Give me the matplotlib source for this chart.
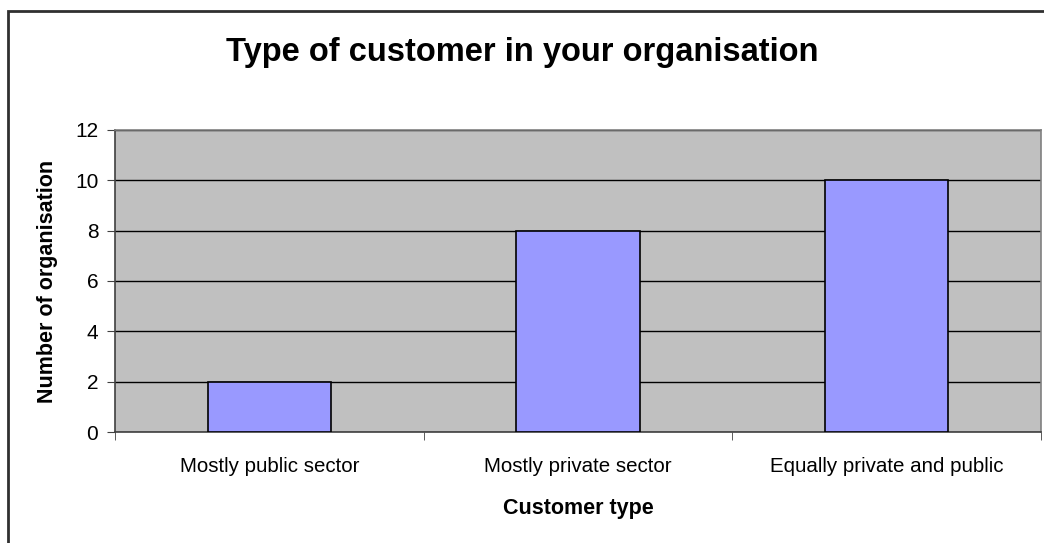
import matplotlib
matplotlib.use("Agg")
import matplotlib.pyplot as plt
from matplotlib.patches import Rectangle

categories = ["Mostly public sector", "Mostly private sector", "Equally private and public"]
values = [2, 8, 10]
yticks = [0, 2, 4, 6, 8, 10, 12]

plt.rcParams['font.family'] = ['Liberation Sans', 'DejaVu Sans']

fig = plt.figure(figsize=(10.44, 5.43), dpi=100)
W, H = 1044, 543
ax = fig.add_axes([115 / W, 1 - 432 / H, (1041 - 115) / W, (432 - 130) / H])
ax.set_facecolor('#C0C0C0')

x = list(range(len(categories)))
ax.bar(x, values, width=0.4, color='#9999FF', edgecolor='black', linewidth=1.2, zorder=3)
ax.set_xlim(-0.5, len(categories) - 0.5)
ax.set_ylim(0, 12)
ax.set_yticks(yticks)
ax.set_yticklabels([str(v) for v in yticks], fontsize=15)
ax.yaxis.grid(True, color='black', linewidth=1, zorder=1)
ax.set_axisbelow(True)
ax.set_xticks(x)
ax.set_xticklabels(categories, fontsize=14.8)
ax.tick_params(axis='x', length=0, pad=18)
ax.set_xticks([-0.5, 0.5, 1.5, 2.5], minor=True)
ax.tick_params(axis='x', which='minor', length=6, color='#404040', direction='out')
ax.tick_params(axis='y', length=6, color='#404040', direction='out', pad=6)

for s in ['top', 'right']:
    ax.spines[s].set_color('#808080')
    ax.spines[s].set_linewidth(1.2)
for s in ['left', 'bottom']:
    ax.spines[s].set_color('#404040')
    ax.spines[s].set_linewidth(1.2)

ax.set_xlabel("Customer type", fontsize=15.5, fontweight='bold', labelpad=16)
ax.set_ylabel("Number of organisation", fontsize=15.5, fontweight='bold', labelpad=12)

fig.text(0.5, 1 - 53 / H, "Type of customer in your organisation", ha='center', va='center',
         fontsize=23.5, fontweight='bold')

fig.patches.append(Rectangle((7.5 / W, -0.1), 1.2, 1 - 11 / H + 0.1, transform=fig.transFigure,
                             fill=False, edgecolor='#303030', linewidth=2))

fig.savefig("out.png", dpi=100)
